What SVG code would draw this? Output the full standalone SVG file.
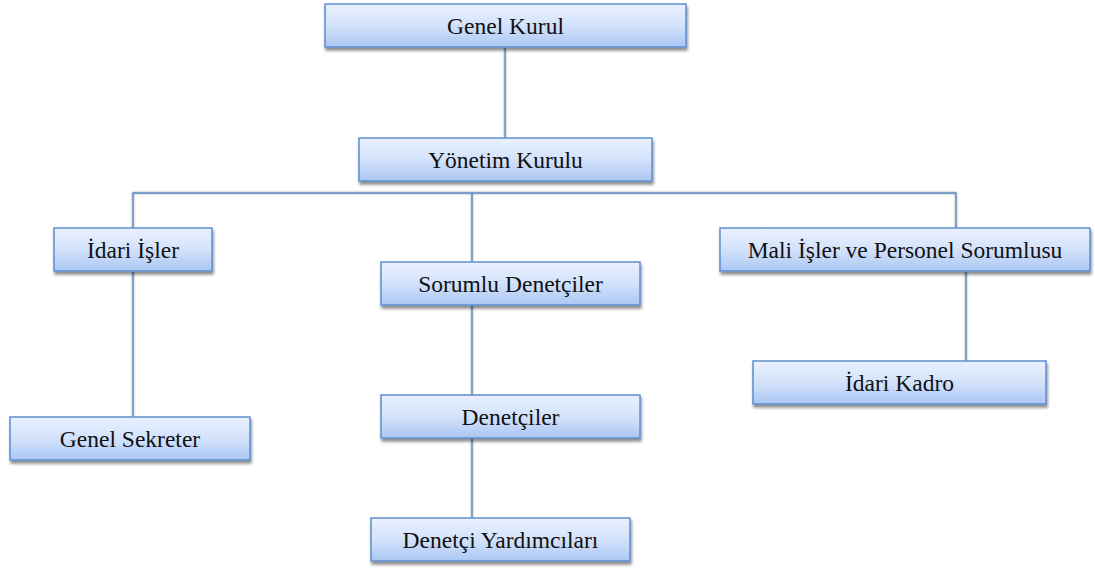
<svg xmlns="http://www.w3.org/2000/svg" width="1095" height="569" viewBox="0 0 1095 569">
  <defs>
    <linearGradient id="boxFill" x1="0" y1="0" x2="0" y2="1">
      <stop offset="0" stop-color="#eaf1ff"/>
      <stop offset="0.5" stop-color="#d3e2fb"/>
      <stop offset="1" stop-color="#abc7f3"/>
    </linearGradient>
    <filter id="boxShadow" x="-10%" y="-20%" width="120%" height="150%">
      <feGaussianBlur in="SourceAlpha" stdDeviation="1.6"/>
      <feOffset dx="1" dy="3" result="off"/>
      <feComponentTransfer><feFuncA type="linear" slope="0.45"/></feComponentTransfer>
      <feMerge><feMergeNode/><feMergeNode in="SourceGraphic"/></feMerge>
    </filter>
    <!-- soft grey halo around connector lines -->
    <filter id="lineShadow" filterUnits="userSpaceOnUse" x="0" y="0" width="1095" height="569">
      <feGaussianBlur in="SourceAlpha" stdDeviation="0.9"/>
      <feComponentTransfer><feFuncA type="linear" slope="0.45"/></feComponentTransfer>
      <feMerge><feMergeNode/><feMergeNode in="SourceGraphic"/></feMerge>
    </filter>
  </defs>
  <style>
    .box { fill: url(#boxFill); stroke: #5d8fcf; stroke-width: 1.5; filter: url(#boxShadow); }
    .lbl { font-family: "Liberation Serif", "Times New Roman", serif; font-size: 23.5px; fill: #111; text-anchor: middle; }
    .conn { fill: none; stroke: #5b8bc9; stroke-width: 1.4; }
  </style>
  <rect width="1095" height="569" fill="#ffffff"/>

  <g id="connectors" filter="url(#lineShadow)">
    <path class="conn" d="M505 47 V138"/>
    <path class="conn" d="M133 228 V193 H956 V228"/>
    <path class="conn" d="M472 193 V262"/>
    <path class="conn" d="M133 271 V417"/>
    <path class="conn" d="M472 305 V395"/>
    <path class="conn" d="M472 438 V518"/>
    <path class="conn" d="M966 271 V361"/>
  </g>

  <g id="genel-kurul">
    <rect class="box" x="325" y="4" width="361" height="43"/>
    <text class="lbl" x="505.5" y="34">Genel Kurul</text>
  </g>
  <g id="yonetim-kurulu">
    <rect class="box" x="359" y="138" width="293" height="43"/>
    <text class="lbl" x="505.5" y="168">Yönetim Kurulu</text>
  </g>
  <g id="idari-isler">
    <rect class="box" x="54" y="228" width="158" height="43"/>
    <text class="lbl" x="133" y="258">İdari İşler</text>
  </g>
  <g id="sorumlu-denetciler">
    <rect class="box" x="381" y="262" width="259" height="43"/>
    <text class="lbl" x="510.5" y="292">Sorumlu Denetçiler</text>
  </g>
  <g id="mali-isler">
    <rect class="box" x="720" y="228" width="370" height="43"/>
    <text class="lbl" x="905" y="258">Mali İşler ve Personel Sorumlusu</text>
  </g>
  <g id="genel-sekreter">
    <rect class="box" x="10" y="417" width="240" height="43"/>
    <text class="lbl" x="130" y="447">Genel Sekreter</text>
  </g>
  <g id="denetciler">
    <rect class="box" x="381" y="395" width="259" height="43"/>
    <text class="lbl" x="510.5" y="425">Denetçiler</text>
  </g>
  <g id="idari-kadro">
    <rect class="box" x="753" y="361" width="293" height="43"/>
    <text class="lbl" x="899.5" y="391">İdari Kadro</text>
  </g>
  <g id="denetci-yardimcilari">
    <rect class="box" x="371" y="518" width="259" height="43"/>
    <text class="lbl" x="500.5" y="548">Denetçi Yardımcıları</text>
  </g>
</svg>
